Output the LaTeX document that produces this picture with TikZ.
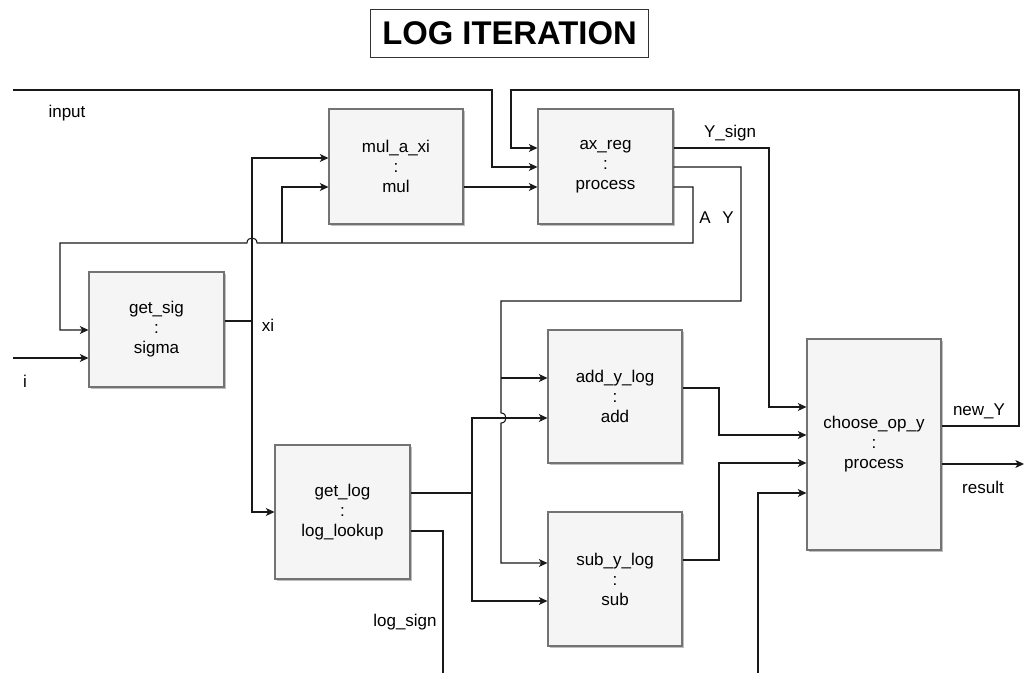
\documentclass[tikz,border=0pt]{standalone}
\usepackage{fontspec}
\setmainfont{Liberation Sans}
\usetikzlibrary{arrows.meta,shadows,calc}

\tikzset{
  blk/.style={draw=black!55, fill=black!4, line width=0.8pt, align=center,
    font=\fontsize{12.75pt}{15pt}\selectfont, inner sep=0pt,
    drop shadow={shadow xshift=1.6pt, shadow yshift=-1.6pt, fill=black!25, opacity=1}},
  wire/.style={draw=black!90, line width=0.8pt},
  arr/.style={wire, -{Stealth[length=6.5pt, width=6pt, inset=1.8pt]}},
  lbl/.style={font=\fontsize{12.75pt}{15pt}\selectfont, inner sep=0pt},
  ttl/.style={draw=black!80, line width=0.8pt, font=\bfseries\fontsize{24.6pt}{28pt}\selectfont,
    minimum width=208pt, minimum height=36pt, inner sep=0pt}
}

\begin{document}
\begin{tikzpicture}[x=0.75pt, y=-0.75pt]
\useasboundingbox (0,0) rectangle (1025,673);

% title
\node[ttl] (title) at (509.5,33.3) {LOG ITERATION};

% processing blocks
\node[blk, minimum width=100.5pt, minimum height=86.25pt] (mul) at (396,166.5) {mul\_a\_xi\\:\\mul};
\node[blk, minimum width=101.25pt, minimum height=86.25pt] (ax)  at (605.5,166.5) {ax\_reg\\:\\process};
\node[blk, minimum width=101.25pt, minimum height=86.25pt] (gs)  at (156.5,329.5) {get\_sig\\:\\sigma};
\node[blk, minimum width=101.25pt, minimum height=100.5pt] (gl)  at (342.5,512) {get\_log\\:\\log\_lookup};
\node[blk, minimum width=100.5pt, minimum height=99.75pt] (add) at (615,396.5) {add\_y\_log\\:\\add};
\node[blk, minimum width=100.5pt, minimum height=100.5pt] (sub) at (615,579) {sub\_y\_log\\:\\sub};
\node[blk, minimum width=100.5pt, minimum height=158.25pt] (ch) at (874,444.5) {choose\_op\_y\\:\\process};

% free ends
\coordinate (inInput) at (13,90);
\coordinate (inI) at (13,358);
\coordinate (inLog) at (443,673);
\coordinate (inBot) at (758,673);
\coordinate (outRes) at (1024,464);

% input into ax_reg
\draw[arr] (inInput) -- (492,90) -- (492,167) -- (ax.west |- 0,167);
\node[lbl] (lInput) at (67,113) {input};

% new_Y fed back to ax_reg
\draw[arr] (ch.east |- 0,426) -- (1019,426) -- (1019,90) -- (511,90) -- (511,148) -- (ax.west |- 0,148);
\node[lbl] (lNewY) at (979,411) {new\_Y};

% product into ax_reg
\draw[arr] (mul.east |- 0,187) -- (ax.west |- 0,187);

% Y_sign into choose_op_y
\draw[arr] (ax.east |- 0,148) -- (769,148) -- (769,407) -- (ch.west |- 0,407);
\node[lbl] (lYsign) at (730,133) {Y\_sign};

% Y into add and sub (hops over the log bus)
\draw[arr] (ax.east |- 0,167) -- (741,167) -- (741,301) -- (501,301) -- (501,413)
  .. controls (507.7,413) and (507.7,423) .. (501,423) -- (501,563) -- (sub.west |- 0,563);
\draw[arr] (501,378) -- (add.west |- 0,378);
\node[lbl] (lY) at (728,218) {Y};

% A back to get_sig and mul_a_xi (hops over xi)
\draw[arr] (ax.east |- 0,187) -- (693,187) -- (693,243) -- (257,243)
  .. controls (257,236.3) and (247,236.3) .. (247,243) -- (60,243) -- (60,330) -- (gs.west |- 0,330);
\draw[arr] (282,243) -- (282,187) -- (mul.west |- 0,187);
\node[lbl] (lA) at (705,218) {A};

% xi distribution
\draw[wire] (gs.east |- 0,321) -- (252,321);
\draw[arr] (252,321) -- (252,158) -- (mul.west |- 0,158);
\draw[arr] (252,321) -- (252,512) -- (gl.west |- 0,512);
\node[lbl] (lXi) at (268,325) {xi};

% i into get_sig
\draw[arr] (inI) -- (gs.west |- 0,358);
\node[lbl] (lI) at (25,381) {i};

% log value into add and sub
\draw[wire] (gl.east |- 0,493) -- (472,493);
\draw[arr] (472,493) -- (472,418) -- (add.west |- 0,418);
\draw[arr] (472,493) -- (472,601) -- (sub.west |- 0,601);

% log_sign
\draw[wire] (gl.east |- 0,531) -- (443,531) -- (inLog);
\node[lbl] (lLogSign) at (405,622) {log\_sign};

% add and sub results into choose_op_y
\draw[arr] (add.east |- 0,388) -- (719,388) -- (719,435) -- (ch.west |- 0,435);
\draw[arr] (sub.east |- 0,560) -- (719,560) -- (719,463) -- (ch.west |- 0,463);
\draw[arr] (inBot) -- (758,493) -- (ch.west |- 0,493);

% result
\draw[arr] (ch.east |- 0,464) -- (outRes);
\node[lbl] (lResult) at (983,487) {result};

\end{tikzpicture}
\end{document}
